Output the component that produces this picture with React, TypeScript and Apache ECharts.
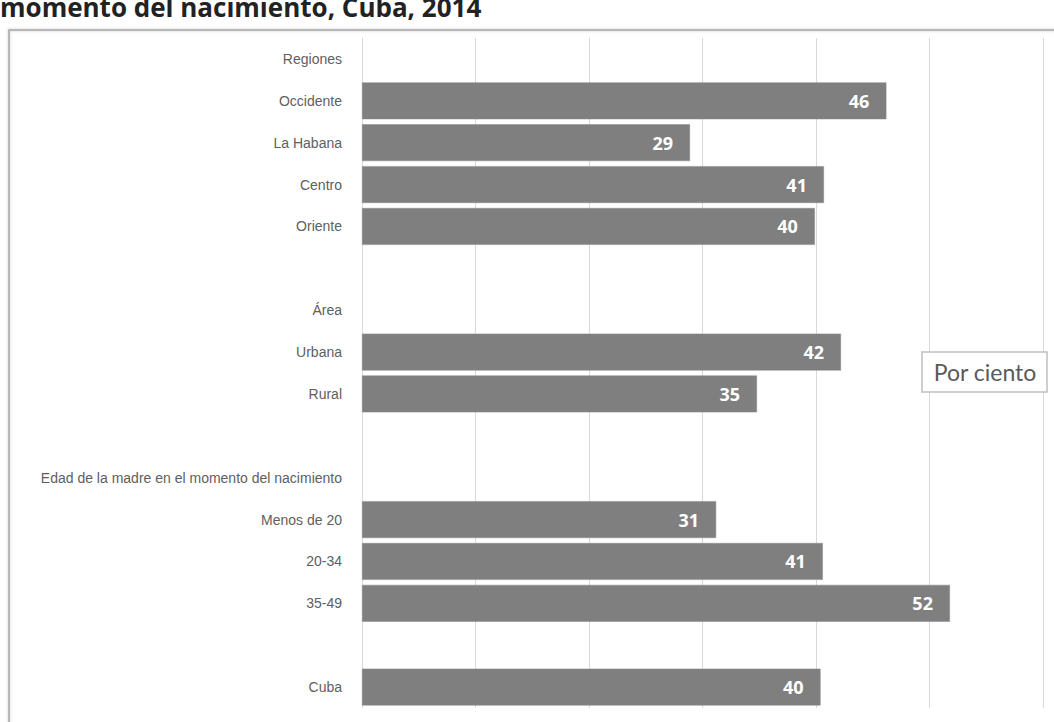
import React, { useEffect, useRef } from "react";
import * as echarts from "echarts";

const categories = [
  "Regiones",
  "Occidente",
  "La Habana",
  "Centro",
  "Oriente",
  "",
  "Área",
  "Urbana",
  "Rural",
  "",
  "Edad de la madre en el momento del nacimiento",
  "Menos de 20",
  "20-34",
  "35-49",
  "",
  "Cuba",
];

const values: (number | null)[] = [
  null, 46.2, 28.9, 40.7, 39.9, null, null, 42.2, 34.8, null, null, 31.2, 40.6, 51.8, null, 40.4,
];

const xTicks = [0, 10, 20, 30, 40, 50, 60];

const titleText = "momento del nacimiento, Cuba, 2014";
const unitText = "Por ciento";

export default function App() {
  const ref = useRef<HTMLDivElement>(null);
  useEffect(() => {
    if (!ref.current) return;
    const chart = echarts.init(ref.current, null, { renderer: "svg" });
    chart.setOption({
      animation: false,
      backgroundColor: "#ffffff",
      grid: { left: 362, right: 11, top: 38, bottom: 14 },
      xAxis: {
        type: "value",
        min: xTicks[0],
        max: xTicks[xTicks.length - 1],
        interval: 10,
        axisLabel: { show: false },
        axisLine: { show: false },
        axisTick: { show: false },
        splitLine: { show: true, lineStyle: { color: "#d9d9d9", width: 1 } },
      },
      yAxis: {
        type: "category",
        inverse: true,
        data: categories.map((c, i) => ({ value: c || " ".repeat(i + 1) })),
        axisLine: { show: false },
        axisTick: { show: false },
        axisLabel: {
          color: "#606060",
          fontFamily: "Liberation Sans",
          fontSize: 14,
          margin: 20,
        },
      },
      series: [
        {
          type: "bar",
          data: values,
          barCategoryGap: "12%",
          itemStyle: { color: "#7f7f7f", borderColor: "#8a8a8a", borderWidth: 0.5 },
          label: {
            show: true,
            position: "insideRight",
            distance: 17,
            color: "#ffffff",
            fontFamily: "Open Sans",
            fontWeight: "bold",
            fontSize: 18,
            formatter: (p: any) => (p.value == null ? "" : String(Math.round(p.value))),
          },
        },
      ],
      graphic: [
        {
          type: "rect",
          shape: { x: 9, y: 30, width: 1200, height: 900 },
          style: { fill: "none", stroke: "#a6a6a6", lineWidth: 1.5, shadowBlur: 3, shadowColor: "rgba(0,0,0,0.25)" },
          z: -1,
          silent: true,
        },
        {
          type: "text",
          x: 0,
          y: 7,
          style: {
            text: titleText,
            fill: "#222222",
            font: "bold 26px 'Open Sans'",
            verticalAlign: "middle",
          },
        },
        {
          type: "rect",
          shape: { x: 922, y: 352, width: 125, height: 40 },
          style: { fill: "#ffffff", stroke: "#c0c0c0", lineWidth: 1.5 },
          z: 10,
        },
        {
          type: "text",
          x: 985,
          y: 372,
          style: {
            text: unitText,
            fill: "#5a5a5a",
            font: "23px Lato",
            align: "center",
            verticalAlign: "middle",
          },
          z: 11,
        },
      ],
    });
    return () => chart.dispose();
  }, []);
  return (
    <div
      ref={ref}
      style={{ position: "fixed", left: 0, top: 0, width: 1054, height: 722 }}
    />
  );
}
